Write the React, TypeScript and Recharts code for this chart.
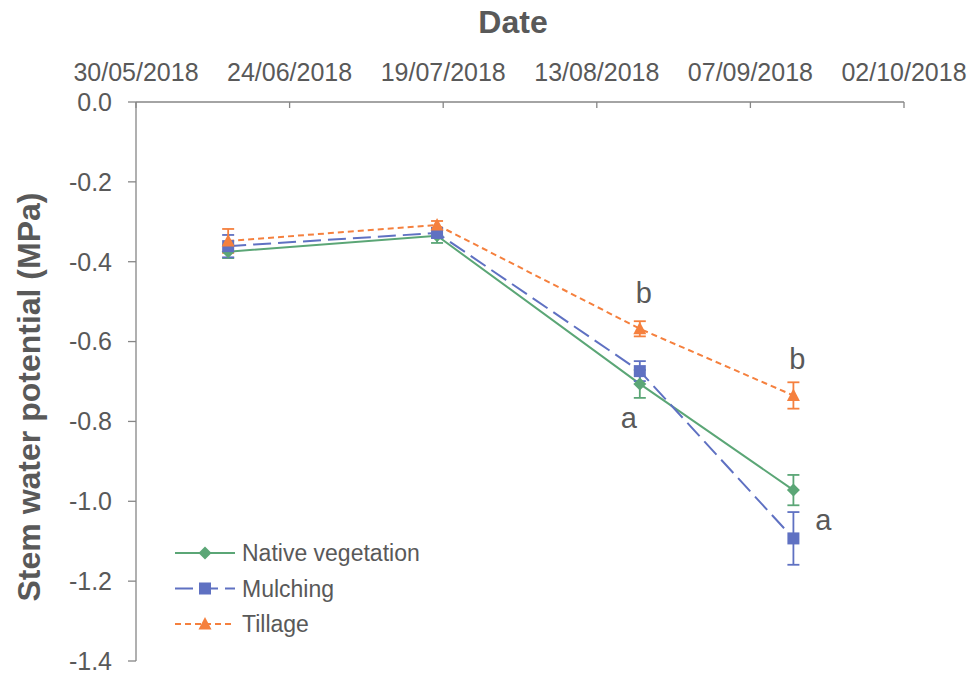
import React from 'react';
import { LineChart, Line, XAxis, YAxis, ErrorBar, LabelList, Legend, Label } from 'recharts';

// sampling dates and axis ticks
const DATES = ['2018-06-14', '2018-07-18', '2018-08-20', '2018-09-14'];
const X_TICKS = ['2018-05-30', '2018-06-24', '2018-07-19', '2018-08-13', '2018-09-07', '2018-10-02'];
const Y_TICKS = [0, -0.2, -0.4, -0.6, -0.8, -1.0, -1.2, -1.4];

// stem water potential (MPa) + error per treatment
const NATIVE = [-0.375, -0.335, -0.706, -0.972];
const NATIVE_ERR = [0.016, 0.018, 0.035, 0.038];
const NATIVE_LETTERS = ['', '', 'a', ''];

const MULCH = [-0.361, -0.328, -0.674, -1.093];
const MULCH_ERR = [0.028, 0.012, 0.025, 0.066];
const MULCH_LETTERS = ['', '', '', 'a'];

const TILL = [-0.348, -0.308, -0.568, -0.735];
const TILL_ERR = [0.03, 0.01, 0.019, 0.033];
const TILL_LETTERS = ['', '', 'b', 'b'];

const GREEN = '#5BA676';
const BLUE = '#5F71C2';
const ORANGE = '#F5803E';
const TEXT = '#595959';
const AXIS = '#868686';
const FONT = '"Liberation Sans", Arial, sans-serif';

const toTime = (s: string) => new Date(s + 'T00:00:00Z').getTime();
const pad = (n: number) => (n < 10 ? '0' + n : '' + n);
const fmtDate = (t: number) => {
  const d = new Date(t);
  return `${pad(d.getUTCDate())}/${pad(d.getUTCMonth() + 1)}/${d.getUTCFullYear()}`;
};

const data = DATES.map((d, i) => ({
  t: toTime(d),
  nv: NATIVE[i],
  nvErr: NATIVE_ERR[i],
  nvLetter: NATIVE_LETTERS[i],
  mu: MULCH[i],
  muErr: MULCH_ERR[i],
  muLetter: MULCH_LETTERS[i],
  tl: TILL[i],
  tlErr: TILL_ERR[i],
  tlLetter: TILL_LETTERS[i],
}));

const xTicks = X_TICKS.map(toTime);

const Diamond = ({ cx, cy, color }: any) => (
  <path d={`M${cx},${cy - 6.5}L${cx + 6.5},${cy}L${cx},${cy + 6.5}L${cx - 6.5},${cy}Z`} fill={color} />
);
const Square = ({ cx, cy, color }: any) => <rect x={cx - 6} y={cy - 6} width={12} height={12} fill={color} />;
const Triangle = ({ cx, cy, color }: any) => (
  <path d={`M${cx},${cy - 7}L${cx + 6.5},${cy + 5.5}L${cx - 6.5},${cy + 5.5}Z`} fill={color} />
);

const makeDot = (Shape: any, color: string) => (props: any) => (
  <Shape key={`d-${props.index}`} cx={props.cx} cy={props.cy} color={color} />
);

const makeLetter = (dx: number, dy: number) => (props: any) => {
  const { value, index } = props;
  const x = props.x ?? props.viewBox?.x;
  const y = props.y ?? props.viewBox?.y;
  if (!value) return null;
  return (
    <text key={`l-${index}`} x={x + dx} y={y + dy} textAnchor="middle" fontSize={29} fill={TEXT} fontFamily={FONT}>
      {value}
    </text>
  );
};

const XTick = (props: any) => {
  const { x, y, payload } = props;
  return (
    <g>
      <text x={x} y={y} textAnchor="middle" fontSize={25} fill={TEXT} fontFamily={FONT}>
        {fmtDate(payload.value)}
      </text>
      <line x1={x} x2={x} y1={y + 21} y2={y + 27} stroke={AXIS} strokeWidth={1.3} />
    </g>
  );
};

const LEGEND_ROWS = [
  { name: 'Native vegetation', color: GREEN, dash: undefined, Shape: Diamond },
  { name: 'Mulching', color: BLUE, dash: '18 7', Shape: Square },
  { name: 'Tillage', color: ORANGE, dash: '6 4', Shape: Triangle },
];

const LegendBox = () => (
  <svg width={320} height={110}>
    {LEGEND_ROWS.map((r, i) => {
      const cy = 18 + i * 35.5;
      return (
        <g key={r.name}>
          <line x1={10} x2={70} y1={cy} y2={cy} stroke={r.color} strokeWidth={2} strokeDasharray={r.dash} />
          <r.Shape cx={40} cy={cy} color={r.color} />
          <text x={77} y={cy + 8} fontSize={23} fill={TEXT} fontFamily={FONT}>
            {r.name}
          </text>
        </g>
      );
    })}
  </svg>
);

export default function App() {
  return (
    <div style={{ position: 'absolute', left: 0, top: 0, width: 973, height: 675, background: '#fff' }}>
      <LineChart width={973} height={675} data={data} margin={{ top: 0, right: 69, bottom: 14, left: 0 }}>
        <XAxis
          dataKey="t"
          type="number"
          orientation="top"
          domain={[xTicks[0], xTicks[xTicks.length - 1]]}
          ticks={xTicks}
          interval={0}
          height={102}
          axisLine={{ stroke: AXIS, strokeWidth: 1.3 }}
          tickLine={false}
          tickSize={0}
          tickMargin={21}
          tick={<XTick />}
        >
          <Label
            content={() => (
              <text x={513} y={33} textAnchor="middle" fontSize={32} fontWeight="bold" fill={TEXT} fontFamily={FONT}>
                Date
              </text>
            )}
          />
        </XAxis>
        <YAxis
          type="number"
          domain={[-1.4, 0]}
          ticks={Y_TICKS}
          interval={0}
          width={136}
          tickSize={8}
          tickMargin={16}
          tickFormatter={(v: number) => v.toFixed(1)}
          tick={{ fill: TEXT, fontSize: 25, fontFamily: FONT }}
          axisLine={{ stroke: AXIS, strokeWidth: 1.3 }}
          tickLine={{ stroke: AXIS, strokeWidth: 1.3 }}
        >
          <Label
            content={() => (
              <text
                x={40}
                y={397}
                transform="rotate(-90 40 397)"
                textAnchor="middle"
                fontSize={32}
                fontWeight="bold"
                fill={TEXT}
                fontFamily={FONT}
              >
                Stem water potential (MPa)
              </text>
            )}
          />
        </YAxis>
        <Legend
          layout="vertical"
          align="center"
          verticalAlign="middle"
          content={() => <LegendBox />}
          wrapperStyle={{ left: 165, top: 535, width: 320, height: 110 }}
        />
        <Line
          dataKey="nv"
          name="Native vegetation"
          stroke={GREEN}
          strokeWidth={2}
          dot={makeDot(Diamond, GREEN)}
          activeDot={false}
          isAnimationActive={false}
        >
          <ErrorBar dataKey="nvErr" direction="y" width={6} stroke={GREEN} strokeWidth={1.8} />
          <LabelList dataKey="nvLetter" content={makeLetter(-11, 44)} />
        </Line>
        <Line
          dataKey="mu"
          name="Mulching"
          stroke={BLUE}
          strokeWidth={2}
          strokeDasharray="18 7"
          dot={makeDot(Square, BLUE)}
          activeDot={false}
          isAnimationActive={false}
        >
          <ErrorBar dataKey="muErr" direction="y" width={6} stroke={BLUE} strokeWidth={1.8} />
          <LabelList dataKey="muLetter" content={makeLetter(30, -8)} />
        </Line>
        <Line
          dataKey="tl"
          name="Tillage"
          stroke={ORANGE}
          strokeWidth={2}
          strokeDasharray="6 4"
          dot={makeDot(Triangle, ORANGE)}
          activeDot={false}
          isAnimationActive={false}
        >
          <ErrorBar dataKey="tlErr" direction="y" width={6} stroke={ORANGE} strokeWidth={1.8} />
          <LabelList dataKey="tlLetter" content={makeLetter(4, -26)} />
        </Line>
      </LineChart>
    </div>
  );
}
